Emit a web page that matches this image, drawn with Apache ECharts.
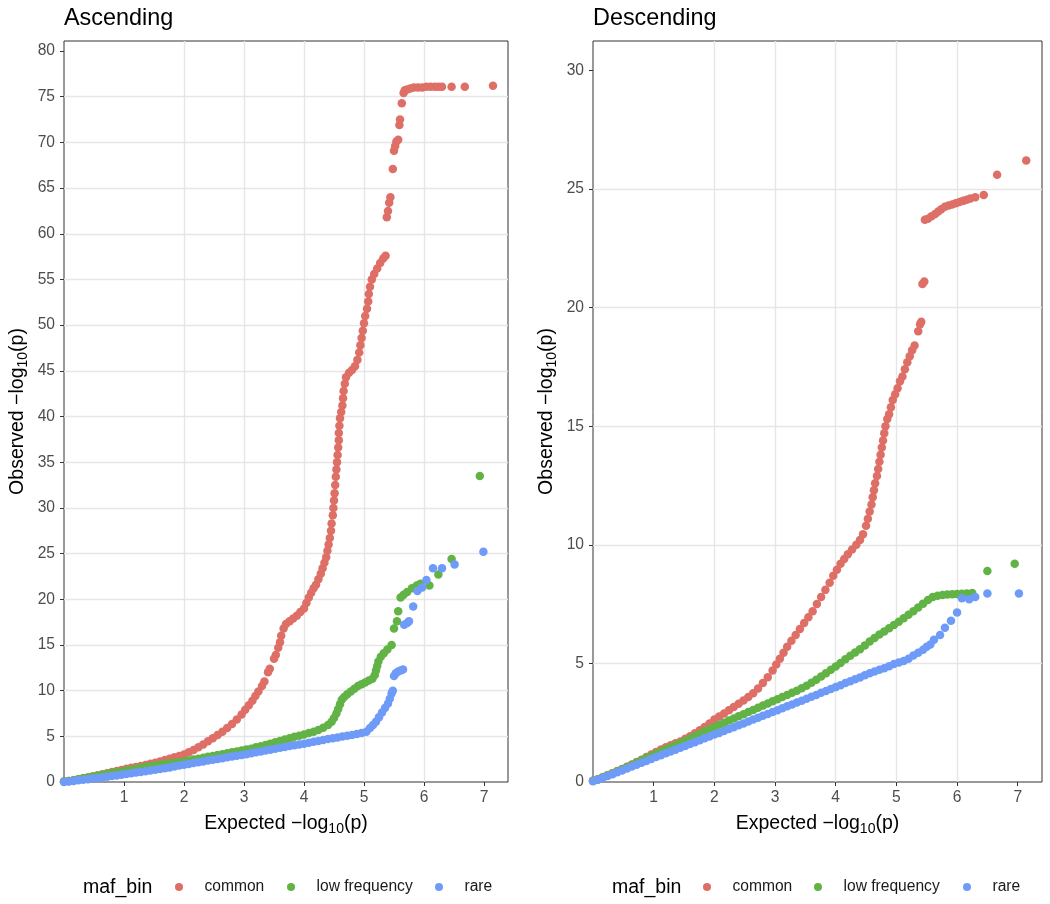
<!DOCTYPE html>
<html><head><meta charset="utf-8">
<script src="https://cdn.jsdelivr.net/npm/echarts@6/dist/echarts.min.js"></script>
<style>html,body{margin:0;padding:0;background:#fff}#c{width:1050px;height:904px}</style>
</head><body><div id="c"></div>
<script>
// ---------- data ----------
const panelTitles = ['Ascending', 'Descending'];
const seriesNames = ['common', 'low frequency', 'rare'];
const seriesColors = ['#de6f67', '#62b346', '#6f9bf8'];
const xTicks = [1, 2, 3, 4, 5, 6, 7];
const yTicksAsc = [0, 5, 10, 15, 20, 25, 30, 35, 40, 45, 50, 55, 60, 65, 70, 75, 80];
const yTicksDesc = [0, 5, 10, 15, 20, 25, 30];

// Ascending panel: [expected, observed]
const ascCommon = [[0,0.05],[0.08,0.12],[0.16,0.2],[0.24,0.3],[0.32,0.4],[0.4,0.5],[0.48,0.6],[0.56,0.7],[0.64,0.85],[0.72,0.95],[0.8,1.1],[0.88,1.2],[0.96,1.3],[1.04,1.45],[1.12,1.55],[1.2,1.65],[1.28,1.75],[1.36,1.85],[1.44,2.0],[1.52,2.1],[1.6,2.25],[1.68,2.4],[1.76,2.55],[1.84,2.7],[1.92,2.85],[2.0,3.0],[2.08,3.25],[2.16,3.5],[2.24,3.8],[2.32,4.1],[2.4,4.45],[2.48,4.8],[2.56,5.15],[2.64,5.5],[2.72,5.9],[2.8,6.35],[2.88,6.85],[2.96,7.4],[3.02,7.9],[3.08,8.4],[3.14,8.9],[3.19,9.4],[3.24,9.9],
  [3.3,10.5],[3.34,11.0],[3.4,12.0],[3.43,12.4],[3.5,13.5],[3.53,13.9],[3.57,14.7],[3.6,15.3],[3.62,16.0],[3.66,16.8],[3.7,17.3],[3.76,17.6],[3.82,17.9],[3.88,18.2],[3.94,18.6],[4.0,19.0],[4.04,19.6],[4.08,20.2],[4.12,20.7],[4.16,21.2],[4.2,21.6],[4.24,22.2],[4.28,22.8],[4.31,23.4],[4.34,24.0],[4.37,24.6],[4.39,25.3],[4.41,26.0],[4.43,26.7],[4.45,27.5],[4.46,28.3],[4.48,29.2],[4.49,30.0],[4.5,30.8],[4.51,31.6],[4.52,32.5],[4.53,33.4],[4.54,34.2],[4.55,35.0],[4.56,35.8],[4.57,36.6],[4.58,37.4],[4.58,38.2],[4.59,39.0],[4.6,39.8],[4.62,40.5],[4.64,41.2],[4.65,42.0],[4.66,42.8],[4.68,43.6],[4.7,44.3],[4.75,44.8],[4.8,45.1],[4.85,45.5],[4.89,46.2],[4.92,47.0],[4.94,47.8],[4.96,48.6],[4.98,49.4],[5.0,50.2],[5.02,51.0],[5.05,51.8],[5.07,52.6],[5.08,53.4],[5.1,54.2],[5.13,55.0],[5.17,55.6],[5.22,56.2],[5.27,56.8],[5.32,57.3],[5.36,57.6],
  [5.38,61.8],[5.4,62.5],[5.42,63.4],[5.44,64.0],[5.48,67.1],[5.5,69.1],[5.52,69.6],[5.54,70.1],[5.57,70.3],[5.59,71.9],[5.6,72.5],[5.63,74.3],[5.66,75.4],[5.68,75.7],[5.72,75.8],[5.77,75.9],[5.83,76.0],[5.9,76.0],[5.97,76.0],[6.04,76.1],[6.11,76.1],[6.18,76.1],[6.24,76.1],[6.3,76.1],[6.46,76.1],[6.68,76.1],[7.15,76.2]];

const ascLowFreq = [[0,0.05],[0.08,0.12],[0.16,0.2],[0.24,0.3],[0.32,0.4],[0.4,0.5],[0.48,0.6],[0.56,0.7],[0.64,0.8],[0.72,0.9],[0.8,1.0],[0.88,1.05],[0.96,1.15],[1.04,1.25],[1.12,1.35],[1.2,1.45],[1.28,1.55],[1.36,1.65],[1.44,1.75],[1.52,1.8],[1.6,1.9],[1.68,2.0],[1.76,2.05],[1.84,2.1],[1.92,2.2],[2.0,2.25],[2.08,2.35],[2.16,2.45],[2.24,2.55],[2.32,2.65],[2.4,2.75],[2.48,2.85],[2.56,2.95],[2.64,3.05],[2.72,3.15],[2.8,3.25],[2.88,3.35],[2.96,3.45],[3.04,3.55],[3.12,3.65],[3.2,3.8],[3.28,3.9],[3.36,4.05],[3.44,4.2],[3.52,4.35],[3.6,4.5],[3.68,4.65],[3.76,4.8],[3.84,4.95],[3.92,5.05],[4.0,5.2],[4.08,5.35],[4.16,5.5],[4.24,5.7],[4.32,5.95],[4.4,6.25],[4.46,6.6],[4.5,7.0],[4.54,7.5],[4.57,8.0],[4.6,8.5],[4.63,9.0],[4.67,9.3],[4.72,9.6],[4.78,9.9],[4.84,10.2],[4.9,10.5],[4.96,10.7],[5.02,10.9],[5.08,11.1],[5.14,11.3],[5.18,11.7],[5.2,12.2],[5.22,12.7],[5.24,13.2],[5.28,13.7],[5.33,14.1],[5.39,14.5],[5.46,15.0],
  [5.5,16.8],[5.55,17.6],[5.57,18.7],[5.61,20.2],[5.66,20.5],[5.72,20.8],[5.8,21.2],[5.88,21.5],[5.94,21.7],[6.09,21.5],[6.24,22.7],[6.46,24.4],[6.93,33.5]];

const ascRare = [[0,0.0],[0.08,0.05],[0.16,0.12],[0.24,0.2],[0.32,0.25],[0.4,0.3],[0.48,0.38],[0.56,0.45],[0.64,0.5],[0.72,0.58],[0.8,0.65],[0.88,0.72],[0.96,0.8],[1.04,0.87],[1.12,0.95],[1.2,1.03],[1.28,1.1],[1.36,1.18],[1.44,1.26],[1.52,1.34],[1.6,1.42],[1.68,1.5],[1.76,1.6],[1.84,1.7],[1.92,1.8],[2.0,1.9],[2.08,1.98],[2.16,2.07],[2.24,2.16],[2.32,2.25],[2.4,2.34],[2.48,2.43],[2.56,2.52],[2.64,2.61],[2.72,2.7],[2.8,2.79],[2.88,2.88],[2.96,2.96],[3.04,3.05],[3.12,3.15],[3.2,3.25],[3.28,3.34],[3.36,3.44],[3.44,3.54],[3.52,3.64],[3.6,3.74],[3.68,3.84],[3.76,3.93],[3.84,4.02],[3.92,4.11],[4.0,4.2],[4.08,4.3],[4.16,4.4],[4.24,4.5],[4.32,4.6],[4.4,4.7],[4.48,4.8],[4.56,4.88],[4.64,4.97],[4.72,5.06],[4.8,5.15],[4.88,5.25],[4.96,5.35],[5.04,5.5],[5.1,5.9],[5.15,6.25],[5.2,6.6],[5.25,7.1],[5.3,7.6],[5.35,8.1],[5.4,8.6],[5.43,9.1],[5.46,9.7],[5.48,10.0],
  [5.5,11.6],[5.53,11.9],[5.57,12.1],[5.61,12.2],[5.65,12.3],[5.67,17.2],[5.72,17.4],[5.75,17.6],[5.82,19.2],[5.89,20.9],[5.97,21.3],[6.04,22.1],[6.15,23.4],[6.3,23.4],[6.51,23.8],[6.99,25.2]];

// Descending panel
const descCommon = [[0,0.05],[0.08,0.12],[0.16,0.2],[0.24,0.28],[0.32,0.37],[0.4,0.46],[0.48,0.55],[0.56,0.64],[0.64,0.74],[0.72,0.84],[0.8,0.94],[0.88,1.05],[0.96,1.16],[1.04,1.27],[1.12,1.37],[1.2,1.46],[1.28,1.55],[1.36,1.63],[1.44,1.71],[1.52,1.82],[1.6,1.93],[1.68,2.05],[1.76,2.18],[1.84,2.32],[1.92,2.47],[2.0,2.63],[2.08,2.76],[2.16,2.89],[2.24,3.02],[2.32,3.16],[2.4,3.3],[2.48,3.44],[2.56,3.58],[2.64,3.74],[2.72,3.94],[2.8,4.17],[2.88,4.42],[2.96,4.7],[3.02,4.95],[3.08,5.2],[3.14,5.45],[3.2,5.7],[3.27,5.95],[3.34,6.2],[3.41,6.45],[3.48,6.7],[3.55,6.95],[3.62,7.2],[3.69,7.5],[3.76,7.8],[3.83,8.1],[3.9,8.4],[3.96,8.7],[4.02,8.95],[4.08,9.2],[4.14,9.4],[4.2,9.6],[4.27,9.8],[4.34,10.0],[4.4,10.2],[4.45,10.45],[4.5,10.8],[4.53,11.1],[4.56,11.4],[4.59,11.7],[4.61,12.0],[4.63,12.3],[4.65,12.6],[4.68,12.9],[4.7,13.2],[4.72,13.5],[4.74,13.8],[4.76,14.1],[4.78,14.4],[4.8,14.7],[4.82,15.0],[4.85,15.3],[4.88,15.5],[4.91,15.8],[4.94,16.1],[4.98,16.35],[5.02,16.6],[5.06,16.9],[5.1,17.1],[5.14,17.4],[5.18,17.7],[5.22,17.95],[5.26,18.2],[5.3,18.4],
  [5.36,19.0],[5.39,19.3],[5.41,19.4],[5.43,21.0],[5.46,21.1],
  [5.47,23.7],[5.52,23.75],[5.58,23.85],[5.64,23.95],[5.69,24.05],[5.74,24.15],[5.8,24.25],[5.86,24.3],[5.92,24.35],[5.98,24.4],[6.04,24.45],[6.1,24.5],[6.16,24.55],[6.22,24.6],[6.3,24.65],[6.44,24.75],[6.66,25.6],[7.14,26.2]];

const descLowFreq = [[0,0.05],[0.08,0.12],[0.16,0.2],[0.24,0.28],[0.32,0.36],[0.4,0.45],[0.48,0.54],[0.56,0.63],[0.64,0.72],[0.72,0.82],[0.8,0.92],[0.88,1.02],[0.96,1.1],[1.04,1.2],[1.12,1.29],[1.2,1.38],[1.28,1.47],[1.36,1.56],[1.44,1.64],[1.52,1.73],[1.6,1.83],[1.68,1.93],[1.76,2.03],[1.84,2.13],[1.92,2.23],[2.0,2.32],[2.08,2.41],[2.16,2.5],[2.24,2.59],[2.32,2.68],[2.4,2.77],[2.48,2.86],[2.56,2.95],[2.64,3.04],[2.72,3.13],[2.8,3.22],[2.88,3.31],[2.96,3.4],[3.04,3.49],[3.12,3.58],[3.2,3.67],[3.28,3.76],[3.36,3.85],[3.44,3.95],[3.52,4.06],[3.6,4.18],[3.68,4.31],[3.76,4.45],[3.84,4.59],[3.92,4.73],[4.0,4.87],[4.08,5.02],[4.16,5.17],[4.24,5.32],[4.32,5.46],[4.4,5.6],[4.48,5.76],[4.56,5.92],[4.64,6.07],[4.72,6.22],[4.8,6.35],[4.88,6.48],[4.96,6.62],[5.04,6.76],[5.12,6.9],[5.2,7.05],[5.28,7.2],[5.36,7.36],[5.44,7.52],[5.52,7.67],[5.6,7.8],[5.68,7.85],[5.76,7.88],[5.84,7.9],[5.92,7.92],[6.0,7.93],[6.08,7.94],[6.16,7.95],[6.25,7.97],[6.5,8.9],[6.95,9.2]];

const descRare = [[0,0.03],[0.08,0.1],[0.16,0.17],[0.24,0.25],[0.32,0.33],[0.4,0.41],[0.48,0.49],[0.56,0.57],[0.64,0.65],[0.72,0.73],[0.8,0.81],[0.88,0.89],[0.96,0.97],[1.04,1.05],[1.12,1.13],[1.2,1.21],[1.28,1.29],[1.36,1.36],[1.44,1.44],[1.52,1.52],[1.6,1.6],[1.68,1.68],[1.76,1.76],[1.84,1.84],[1.92,1.92],[2.0,2.0],[2.08,2.07],[2.16,2.15],[2.24,2.23],[2.32,2.31],[2.4,2.39],[2.48,2.47],[2.56,2.55],[2.64,2.63],[2.72,2.71],[2.8,2.79],[2.88,2.87],[2.96,2.95],[3.04,3.03],[3.12,3.11],[3.2,3.19],[3.28,3.27],[3.36,3.35],[3.44,3.43],[3.52,3.51],[3.6,3.59],[3.68,3.67],[3.76,3.76],[3.84,3.84],[3.92,3.92],[4.0,4.0],[4.08,4.08],[4.16,4.17],[4.24,4.25],[4.32,4.33],[4.4,4.41],[4.48,4.5],[4.56,4.58],[4.64,4.66],[4.72,4.73],[4.8,4.8],[4.88,4.88],[4.96,4.97],[5.04,5.04],[5.12,5.1],[5.2,5.2],[5.28,5.33],[5.36,5.45],[5.44,5.58],[5.5,5.7],[5.56,5.8],[5.62,6.0],[5.72,6.2],[5.8,6.5],[5.9,6.8],[6.0,7.15],[6.08,7.75],[6.2,7.7],[6.3,7.8],[6.5,7.95],[7.02,7.95]];

// ---------- layout / styling ----------
const FONT = '"Liberation Sans", Arial, Helvetica, sans-serif';
const panelData = [[ascCommon, ascLowFreq, ascRare], [descCommon, descLowFreq, descRare]];
const yMax = [81.1, 31.24];
const yTickSets = [yTicksAsc, yTicksDesc];
const gridPos = [{left: 64, top: 41, width: 444, height: 741}, {left: 593, top: 41, width: 449, height: 741}];
const legendLeft = [[175, 287, 435], [703, 814, 963]];
const legendTitleLeft = [83, 612];

const nameRich = {
  a: {fontSize: 19.5, color: '#000', fontFamily: FONT, lineHeight: 24},
  s: {fontSize: 14, color: '#000', fontFamily: FONT, lineHeight: 24, verticalAlign: 'bottom', padding: [0, 0, 0, 0]}
};
const nameExp = '{a|Expected \u2212log}{s|10}{a|(p)}';
const nameObs = '{a|Observed \u2212log}{s|10}{a|(p)}';

const grids = [], xAxes = [], yAxes = [], series = [], titles = [], legends = [];
for (let p = 0; p < 2; p++) {
  grids.push(Object.assign({show: true, borderColor: '#333333', borderWidth: 1, backgroundColor: 'transparent'}, gridPos[p]));
  titles.push({text: panelTitles[p], left: gridPos[p].left, top: 7, padding: 0,
    textStyle: {fontSize: 23.4, fontWeight: 'normal', color: '#000', fontFamily: FONT}});
  titles.push({text: 'maf_bin', left: legendTitleLeft[p], top: 878, padding: 0,
    textStyle: {fontSize: 19.5, fontWeight: 'normal', color: '#000', fontFamily: FONT}});
  xAxes.push({
    type: 'value', gridIndex: p, min: 0, max: 7.4, interval: 1,
    name: nameExp, nameLocation: 'middle', nameGap: 30,
    nameTextStyle: {rich: nameRich},
    axisLine: {show: false},
    axisTick: {show: true, length: 4, customValues: xTicks, lineStyle: {color: '#333333', width: 1}},
    axisLabel: {customValues: xTicks, color: '#4d4d4d', fontSize: 15.6, fontFamily: FONT, margin: 8},
    splitLine: {show: true, showMinLine: false, showMaxLine: false, lineStyle: {color: '#e6e6e6', width: 1.4}}
  });
  yAxes.push({
    type: 'value', gridIndex: p, min: 0, max: yMax[p], interval: 5,
    name: nameObs, nameLocation: 'middle', nameGap: 34, nameRotate: 90,
    nameTextStyle: {rich: nameRich},
    axisLine: {show: false},
    axisTick: {show: true, length: 4, customValues: yTickSets[p], lineStyle: {color: '#333333', width: 1}},
    axisLabel: {customValues: yTickSets[p], color: '#4d4d4d', fontSize: 15.6, fontFamily: FONT, margin: 9},
    splitLine: {show: true, showMinLine: false, showMaxLine: false, lineStyle: {color: '#e6e6e6', width: 1.4}}
  });
  for (let i = 0; i < 3; i++) {
    series.push({
      type: 'scatter', name: seriesNames[i], xAxisIndex: p, yAxisIndex: p,
      data: panelData[p][i], symbol: 'circle', symbolSize: 8.5, z: 2 + i,
      itemStyle: {color: seriesColors[i], opacity: 1},
      emphasis: {disabled: true}, clip: true
    });
    legends.push({
      data: [seriesNames[i]], left: legendLeft[p][i], top: 879, padding: 0,
      icon: 'circle', itemWidth: 8, itemHeight: 8, selectedMode: false,
      textStyle: {fontSize: 15.6, color: '#1a1a1a', fontFamily: FONT, padding: [0, 0, 0, 16.5]}
    });
  }
}

const chart = echarts.init(document.getElementById('c'), null, {renderer: 'canvas'});
chart.setOption({
  animation: false,
  backgroundColor: '#ffffff',
  textStyle: {fontFamily: FONT},
  color: seriesColors,
  title: titles,
  legend: legends,
  grid: grids,
  xAxis: xAxes,
  yAxis: yAxes,
  series: series
});
</script></body></html>
